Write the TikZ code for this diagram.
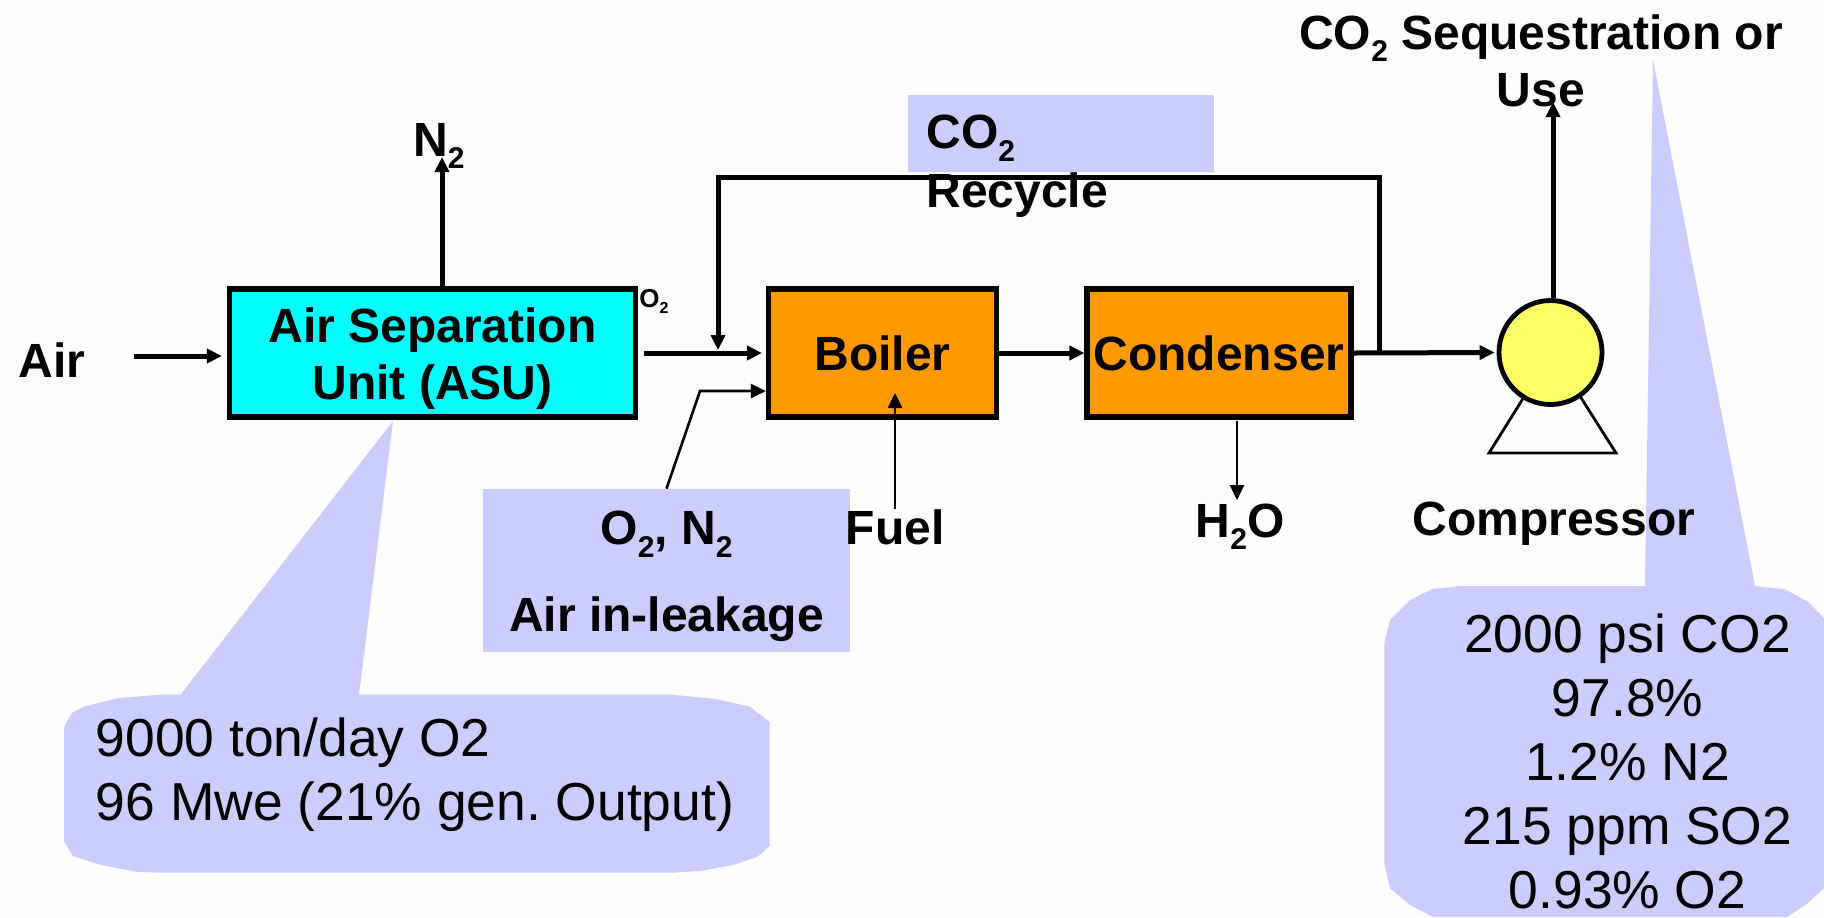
\documentclass[tikz,border=0pt]{standalone}
\usepackage{fontspec}
\setmainfont{Liberation Sans}
\usepackage{tikz}
\usetikzlibrary{arrows.meta,shapes.geometric}
\definecolor{pagebg}{HTML}{FDFDFF}
\definecolor{calloutfill}{HTML}{CCCCFF}
\definecolor{asucyan}{HTML}{00FFFF}
\definecolor{unitorange}{HTML}{FF9900}
\definecolor{compyellow}{HTML}{FFFF66}
\newcommand{\subtwo}{\raisebox{-0.26em}{\fontsize{15}{15}\selectfont 2}}
\begin{document}
\begin{tikzpicture}[x=0.5pt, y=-0.5pt, >={Triangle[length=7.5pt,width=7pt]},
	lab/.style={font=\fontsize{24}{28.5}\selectfont\bfseries, inner sep=0pt},
	note/.style={font=\fontsize{26.7}{32}\selectfont, inner sep=0pt},
	unitbox/.style={draw=black, line width=2.6pt, inner sep=0pt, minimum height=64pt, lab},
	flow/.style={->, line width=2.5pt},
	thinflow/.style={->, line width=1.3pt}]
	\useasboundingbox (0,0) rectangle (1824,917);
	\fill[pagebg] (0,0) rectangle (1824,917);
	% callouts behind everything
	\fill[calloutfill] (158.8,694.7) -- (180.6,694.7) -- (393,421) -- (359,694.7) -- (672.6,694.7) -- (716,699) -- (750,706.7) -- (769.5,721.7) -- (769.5,846) -- (757.4,856.7) -- (733,865) -- (701.6,870.7) -- (672.6,872.7) -- (158.8,872.7) -- (137,871.7) -- (100.6,865) -- (73,856) -- (64.2,841.7) -- (64.2,726.7) -- (71.5,713.3) -- (83.6,706.7) -- (117.6,698.3) -- cycle;
	\fill[calloutfill] (1460,586) -- (1645,586) -- (1653,60) -- (1755,586) -- (1785,589.3) -- (1808,601.7) -- (1824,618.3) -- (1824,888) -- (1808,903) -- (1787,917) -- (1433,917) -- (1410,905) -- (1390,888.3) -- (1384.3,863.3) -- (1384.3,643.3) -- (1390,620) -- (1410,600) -- (1431.7,589.3) -- cycle;
	\node[note, anchor=west, align=left] (asunote) at (95.5,774.5) {9000 ton/day O2\\96 Mwe (21\% gen.\ Output)};
	\node[note, align=center] (co2note) at (1627.5,761.5) {2000 psi CO2\\97.8\%\\1.2\% N2\\215 ppm SO2\\0.93\% O2};
	% units
	\node[unitbox, fill=asucyan, minimum width=203pt] (asu) at (432.5,353) {};
	\node[lab, align=center] (asulab) at (432.5,359) {Air Separation\\Unit (ASU)};
	\node[unitbox, fill=unitorange, minimum width=114pt] (boiler) at (882.5,353) {Boiler};
	\node[unitbox, fill=unitorange, minimum width=132pt] (condenser) at (1219,353) {Condenser};
	\node[fill=calloutfill, minimum width=153pt, minimum height=38.5pt, inner sep=0pt] (recbox) at (1060.5,133.5) {};
	\node[fill=calloutfill, minimum width=183.5pt, minimum height=81.5pt, inner sep=0pt] (leak) at (666.5,570.5) {};
	\node[lab, align=center] (leaklab) at (666.5,576.5) {O\subtwo, N\subtwo\\[15pt]Air in-leakage};
	% compressor
	\coordinate (legtop) at (1552,352);
	\draw[line width=1.4pt] (1489,453) -- (legtop) -- (1616,453) -- cycle;
	\node[ellipse, draw=black, line width=2.4pt, fill=compyellow, minimum width=51.5pt, minimum height=52pt, inner sep=0pt] (comp) at (1550.5,352.5) {};
	% labels
	\node[lab, anchor=base] (airlab) at (52,377) {Air};
	\node[lab, anchor=base] (n2lab) at (439,156) {N\subtwo};
	\node[font=\fontsize{13}{15}\selectfont\bfseries, inner sep=0pt, anchor=base west] (o2lab) at (639,307) {O\raisebox{-0.26em}{\fontsize{8}{8}\selectfont 2}};
	\node[lab, anchor=west, align=left] (reclab) at (926,166.5) {CO\subtwo\\[1pt]Recycle};
	\node[lab, anchor=base] (fuellab) at (895,544) {Fuel};
	\node[lab, anchor=base] (h2olab) at (1240,537) {H\subtwo O};
	\node[lab, anchor=base] (complab) at (1554,535) {Compressor};
	\node[lab, align=center, anchor=center] (seqlab) at (1541,60.5) {CO\subtwo{} Sequestration or\\Use};
	% free ends
	\coordinate (airstart) at (134,356);
	\coordinate (n2tip) at (442,157);
	\coordinate (rectop) at (718,177);
	\coordinate (rectap) at (1379,353);
	\coordinate (leakbend) at (700,391);
	\coordinate (fueltip) at (895,393);
	\coordinate (h2ostart) at (1237,421);
	\coordinate (h2otip) at (1237,500);
	\coordinate (usetip) at (1553,102);
	% streams
	\draw[flow, shorten >=2.5pt] (airstart) -- (asu.west |- airstart);
	\draw[flow] (n2tip |- asu.north) -- (n2tip);
	\draw[flow, shorten <=3pt, shorten >=2pt] (asu.east) -- (boiler.west);
	\draw[flow, shorten >=1.5pt] (rectap) |- (rectop) -- (rectop |- asu.east);
	\draw[flow] (boiler.east) -- (condenser.west);
	\draw[flow, shorten >=1pt] (condenser.east) -- (comp.west);
	\draw[flow] (usetip |- comp.north) -- (usetip);
	\draw[thinflow] (leak.north) -- (leakbend) -- (boiler.west |- leakbend);
	\draw[thinflow] (fuellab.north) -- (fueltip);
	\draw[thinflow] (h2ostart) -- (h2otip);
\end{tikzpicture}
\end{document}
